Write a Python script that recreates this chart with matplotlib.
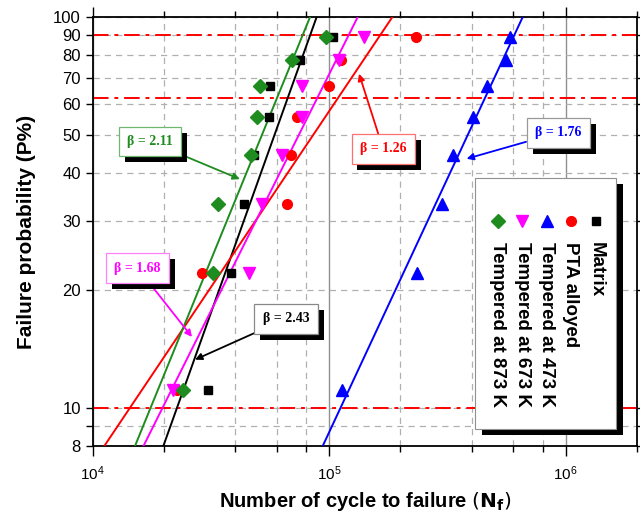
import matplotlib
matplotlib.use("Agg")
import matplotlib.pyplot as plt
from matplotlib import patheffects
from matplotlib.patches import Rectangle
from matplotlib.ticker import LogLocator, FixedLocator, NullFormatter

plt.rcParams['font.family'] = ['Liberation Sans', 'DejaVu Sans']

# failure probability levels (%) of the ranked specimens
prob = [11.1, 22.2, 33.3, 44.4, 55.6, 66.7, 77.8, 88.9]

# cycles to failure
matrix = [30.6e3, 38.5e3, 43.6e3, 48.1e3, 55.8e3, 56.2e3, 75.3e3, 104e3]
pta = [22.8e3, 28.9e3, 66.1e3, 69.0e3, 73.3e3, 100e3, 112e3, 233e3]
t473 = [113e3, 236e3, 299e3, 333e3, 406e3, 466e3, 560e3, 581e3]
t673 = [21.8e3, 45.8e3, 51.8e3, 63.0e3, 76.5e3, 76.5e3, 110.4e3, 140.6e3]
t873 = [24.2e3, 32.4e3, 33.8e3, 46.5e3, 49.3e3, 51.0e3, 69.8e3, 96.6e3]

# fitted lines: N at P = 8 % and at P = 100 %
fit_p = [8, 100]
fit_matrix = [19.9e3, 88.5e3]
fit_pta = [11.2e3, 185e3]
fit_t473 = [93.9e3, 658e3]
fit_t673 = [16.4e3, 132e3]
fit_t873 = [15.1e3, 83e3]

labels = ['Matrix', 'PTA alloyed', 'Tempered at 473 K',
          'Tempered at 673 K', 'Tempered at 873 K']
betas = ['2.43', '1.26', '1.76', '1.68', '2.11']
ref_levels = [10, 62, 90]

colors = ['black', '#ff0000', '#0000ff', '#ff00ff', '#1e8c1e']
markers = ['s', 'o', '^', 'v', 'D']
msizes = [6, 7, 8, 8, 7]
edge_cols = ['#888888', '#ff7070', '#999999', '#ff80ff', '#70b870']

# (text position, arrow tip) in data coordinates
ann_text = [(65.6e3, 16.9), (169e3, 46.0), (928e3, 50.6), (15.5e3, 22.8), (17.5e3, 48.0)]
ann_tip = [(27.1e3, 13.3), (133.7e3, 71.6), (381e3, 43.4), (26.3e3, 15.2), (41.9e3, 38.5)]

series = [matrix, pta, t473, t673, t873]
fits = [fit_matrix, fit_pta, fit_t473, fit_t673, fit_t873]

fig = plt.figure(figsize=(6.4, 5.15), dpi=100)
ax = fig.add_axes([0.1448, 0.134, 0.8504, 0.833])
ax.set_xscale('log')
ax.set_yscale('log')
ax.set_xlim(1e4, 2e6)
ax.set_ylim(8, 100)

# ticks
yt = [8, 9, 10, 20, 30, 40, 50, 60, 70, 80, 90, 100]
ax.yaxis.set_major_locator(FixedLocator(yt))
ax.set_yticklabels(['' if v == 9 else str(v) for v in yt])
ax.yaxis.set_minor_locator(FixedLocator([]))
ax.xaxis.set_major_locator(LogLocator(base=10, numticks=10))
ax.xaxis.set_minor_locator(LogLocator(base=10, subs=[2, 4, 6, 8], numticks=10))
ax.xaxis.set_minor_formatter(NullFormatter())
ax.tick_params(axis='y', which='major', labelsize=12, length=5, width=1, direction='out')
ax.tick_params(axis='x', which='major', labelsize=11, length=7, width=1, direction='out', pad=6)
ax.tick_params(axis='x', which='minor', length=4, width=1, direction='out')
ax.tick_params(right=True, top=True, which='both')
for s in ax.spines.values():
    s.set_linewidth(1.3)

# grid
ax.grid(True, axis='y', which='major', color='#b0b0b0', ls=(0, (5, 4)), lw=0.9)
ax.grid(True, axis='x', which='minor', color='#b0b0b0', ls=(0, (5, 4)), lw=0.9)
ax.grid(True, axis='x', which='major', color='#909090', ls='-', lw=1.0)
ax.set_axisbelow(True)

for lv in ref_levels:
    ax.axhline(lv, color='#ff0000', ls=(0, (8, 3, 2, 3)), lw=1.4, zorder=2)

for i in range(len(series)):
    ax.plot(fits[i], fit_p, color=colors[i], lw=1.4, zorder=3)
    ax.plot(series[i], prob, ls='none', marker=markers[i], ms=msizes[i],
            color=colors[i], mec=colors[i], zorder=4)

# beta annotations with shadowed boxes
for i in range(len(series)):
    an = ax.annotate('\u03b2 = ' + betas[i], xy=ann_tip[i], xytext=ann_text[i],
                     ha='center', va='center', fontsize=10, fontweight='bold',
                     family='Liberation Serif', color=colors[i], zorder=6,
                     bbox=dict(boxstyle='square,pad=0.6', fc='white',
                               ec=edge_cols[i], lw=0.9),
                     arrowprops=dict(arrowstyle='-|>', color=colors[i], lw=1.3,
                                     mutation_scale=10, shrinkA=0, shrinkB=0))
    an.get_bbox_patch().set_path_effects([
        patheffects.SimplePatchShadow(offset=(4.3, -4.3), shadow_rgbFace='black', alpha=1.0),
        patheffects.Normal()])

# rotated legend drawn by hand
lx0, lx1, ly0, ly1 = 0.703, 0.962, 0.039, 0.624
ax.add_patch(Rectangle((lx0 + 0.013, ly0 - 0.014), lx1 - lx0, ly1 - ly0,
                       transform=ax.transAxes, fc='black', ec='none', zorder=7, clip_on=False))
ax.add_patch(Rectangle((lx0, ly0), lx1 - lx0, ly1 - ly0, transform=ax.transAxes,
                       fc='white', ec='#909090', lw=0.8, zorder=8, clip_on=False))
col_x = [0.925, 0.878, 0.834, 0.789, 0.7445]
for i in range(len(series)):
    ax.plot([col_x[i]], [0.525], transform=ax.transAxes, marker=markers[i],
            ms=msizes[i], color=colors[i], ls='none', zorder=9, clip_on=False)
    ax.text(col_x[i], 0.476, labels[i], transform=ax.transAxes, rotation=-90,
            ha='center', va='top', fontsize=13.5, fontweight='bold', zorder=9)

ax.set_xlabel('Number of cycle to failure $\\left(\\mathbf{N_f}\\right)$',
              fontsize=14.5, fontweight='bold', labelpad=5)
ax.set_ylabel('Failure probability (P%)', fontsize=15, fontweight='bold', labelpad=12)

fig.savefig('out.png', dpi=100)
